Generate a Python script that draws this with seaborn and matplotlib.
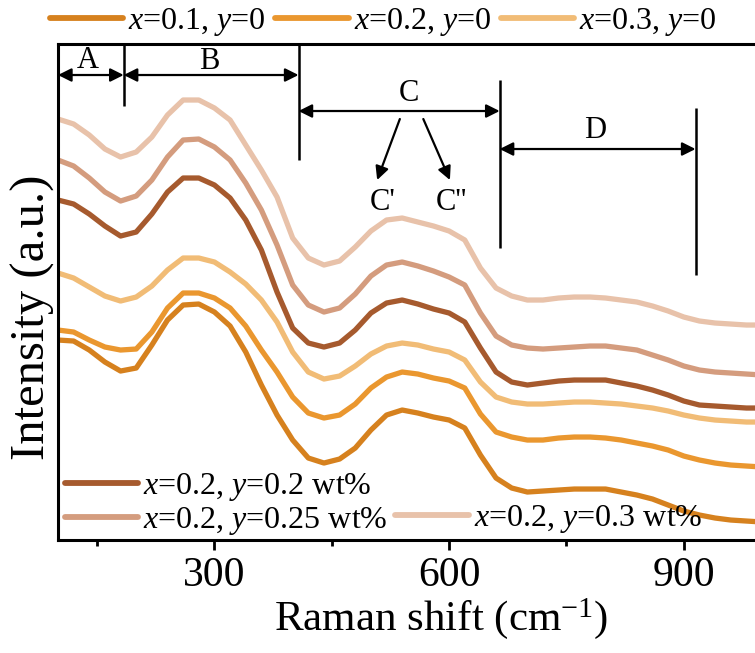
import matplotlib
matplotlib.use("Agg")
import matplotlib.pyplot as plt
import seaborn as sns
import pandas as pd
from matplotlib.lines import Line2D

# ---------------- data ----------------
shift = list(range(100, 1001, 20))  # Raman shift, cm-1

x01_y0 = [200, 199, 190, 178, 169, 172, 195, 220, 235, 236, 228, 214, 188, 155, 125, 100, 82, 77, 81, 92,
          110, 125, 130, 127, 123, 120, 112, 85, 62, 52, 48, 49, 50, 51, 51, 51, 48, 45, 41, 35, 29, 25,
          22, 20, 19, 18]
x02_y0 = [210, 208, 200, 193, 190, 191, 208, 232, 247, 247, 242, 232, 214, 190, 168, 143, 127, 122, 125,
          136, 152, 163, 168, 166, 162, 159, 152, 126, 108, 103, 100, 100, 102, 103, 103, 102, 100, 97, 94,
          90, 84, 80, 77, 75, 74, 73]
x03_y0 = [267, 262, 253, 244, 239, 243, 254, 270, 282, 282, 278, 268, 256, 240, 218, 188, 168, 161, 164,
          174, 186, 194, 197, 195, 191, 188, 180, 158, 143, 138, 136, 136, 137, 138, 138, 137, 136, 134,
          132, 129, 125, 122, 120, 119, 118, 118]
x02_y020 = [340, 336, 326, 314, 304, 308, 326, 348, 362, 362, 355, 342, 320, 290, 248, 212, 197, 193, 197,
            210, 227, 237, 240, 236, 231, 227, 218, 192, 168, 158, 155, 157, 159, 160, 160, 160, 157, 154,
            150, 145, 139, 135, 134, 133, 132, 132]
x02_y025 = [380, 374, 362, 348, 339, 344, 360, 383, 400, 401, 393, 380, 357, 330, 295, 255, 235, 228, 232,
            246, 264, 275, 278, 274, 269, 263, 255, 227, 204, 195, 192, 191, 192, 193, 194, 194, 192, 190,
            185, 180, 174, 170, 168, 167, 166, 165]
x02_y030 = [421, 416, 405, 391, 383, 388, 403, 425, 440, 440, 432, 420, 395, 370, 343, 302, 282, 275, 279,
            293, 309, 320, 322, 318, 314, 309, 300, 272, 252, 244, 240, 240, 242, 243, 243, 242, 240, 238,
            234, 229, 223, 219, 217, 216, 215, 215]

labels = [r"$x$=0.1, $y$=0", r"$x$=0.2, $y$=0", r"$x$=0.3, $y$=0",
          r"$x$=0.2, $y$=0.2 wt%", r"$x$=0.2, $y$=0.25 wt%", r"$x$=0.2, $y$=0.3 wt%"]
series = [x01_y0, x02_y0, x03_y0, x02_y020, x02_y025, x02_y030]
colors = ["#D6811E", "#EA972F", "#F1BC76", "#A65A2E", "#D49C7E", "#E8C2AA"]

xticks_major = [300, 600, 900]
xticks_minor = [150, 450, 750]

# ---------------- styling ----------------
sns.set_style("ticks")
plt.rcParams["font.family"] = ["Liberation Serif", "DejaVu Serif"]
plt.rcParams["mathtext.fontset"] = "custom"
plt.rcParams["mathtext.rm"] = "Liberation Serif"
plt.rcParams["mathtext.it"] = "Liberation Serif:italic"
plt.rcParams["text.color"] = "black"
plt.rcParams["axes.labelcolor"] = "black"
plt.rcParams["xtick.color"] = "black"
plt.rcParams["ytick.color"] = "black"

df = pd.concat([pd.DataFrame({"shift": shift, "intensity": s, "sample": lab})
                for s, lab in zip(series, labels)], ignore_index=True)
palette = dict(zip(labels, colors))

fig = plt.figure(figsize=(7.55, 6.53), dpi=100)
ax = fig.add_axes([0.0768, 0.173, 0.9232, 0.7596])

sns.lineplot(data=df, x="shift", y="intensity", hue="sample", hue_order=labels,
             palette=palette, linewidth=3.8, legend=False, estimator=None, sort=False, ax=ax)
for ln in ax.get_lines():
    ln.set_solid_joinstyle("round")

ax.set_xlim(100, 991)
ax.set_ylim(0, 496)
ax.set_yticks([])
ax.set_xticks(xticks_major)
ax.set_xticks(xticks_minor, minor=True)
ax.tick_params(axis="x", which="major", direction="out", length=7, width=2, labelsize=30, pad=5)
ax.tick_params(axis="x", which="minor", direction="out", length=4, width=2)
for side in ["left", "bottom", "top"]:
    ax.spines[side].set_linewidth(2.2)
    ax.spines[side].set_color("black")
ax.spines["right"].set_visible(False)

ax.set_xlabel(r"Raman shift (cm$^{-1}$)", fontsize=31, labelpad=0)
ax.xaxis.set_label_coords(0.55, -0.112)
ax.set_ylabel("Intensity (a.u.)", fontsize=35)
ax.yaxis.set_label_coords(-0.004, 0.45)

# ---------------- region annotations ----------------
lk = dict(color="black", lw=1.8, solid_capstyle="butt")
ax.plot([184, 184], [434, 496], **lk)
ax.plot([407.5, 407.5], [380, 496], **lk)
ax.plot([664.6, 664.6], [292, 460], **lk)
ax.plot([915, 915], [265, 432], **lk)

ap = dict(arrowstyle="<|-|>", color="black", lw=1.6, mutation_scale=20, shrinkA=0, shrinkB=0)
ax.annotate("", xy=(100, 465), xytext=(184, 465), arrowprops=ap)
ax.annotate("", xy=(184, 465), xytext=(407.5, 465), arrowprops=ap)
ax.annotate("", xy=(407.5, 429), xytext=(664.6, 429), arrowprops=ap)
ax.annotate("", xy=(664.6, 391), xytext=(915, 391), arrowprops=ap)

ap1 = dict(arrowstyle="-|>", color="black", lw=1.6, mutation_scale=20, shrinkA=0, shrinkB=0)
ax.annotate("", xy=(508, 360), xytext=(537, 421), arrowprops=ap1)
ax.annotate("", xy=(601, 360), xytext=(567, 421), arrowprops=ap1)

tk = dict(ha="center", va="center", fontsize=22)
ax.text(138, 480, "A", **tk)
ax.text(294, 479, "B", **tk)
ax.text(548, 447, "C", **tk)
ax.text(787, 410, "D", **tk)
ax.text(515, 338, "C'", **tk)
ax.text(603, 338, "C''", **tk)

# ---------------- legends ----------------
handles = [Line2D([], [], color=c, lw=4.2, solid_capstyle="round") for c in colors]
blank = Line2D([], [], color="none")

fig.legend(handles[:3], labels[:3], loc="center left", bbox_to_anchor=(0.066, 0.966),
           ncol=3, frameon=False, fontsize=23, handlelength=2.3, handletextpad=0.15,
           columnspacing=0.3, borderpad=0, borderaxespad=0)

ax.legend([handles[3], handles[4], blank, handles[5]],
          [labels[3], labels[4], "", labels[5]],
          loc="lower left", bbox_to_anchor=(0.005, 0.0), ncol=2, frameon=False, fontsize=23,
          handlelength=2.3, handletextpad=0.15, columnspacing=0.25, labelspacing=0.05,
          borderpad=0.1, borderaxespad=0)

fig.savefig("out.png", dpi=100)
